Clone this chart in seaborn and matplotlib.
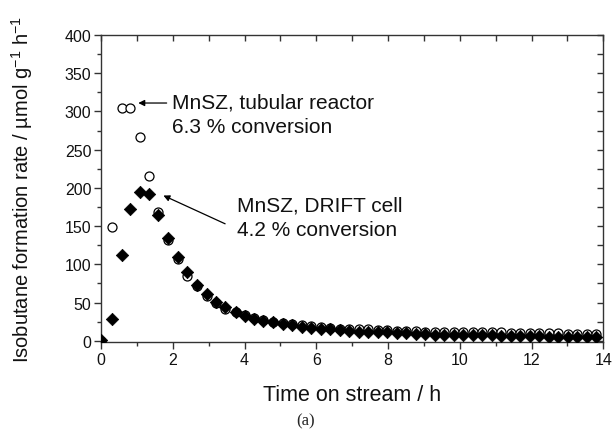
import matplotlib
matplotlib.use("Agg")
import matplotlib.pyplot as plt
from matplotlib.ticker import MultipleLocator
import seaborn as sns
import pandas as pd

time_h = [0.00, 0.30, 0.58, 0.81, 1.08, 1.35, 1.60, 1.88, 2.15, 2.41,
          2.67, 2.95, 3.20, 3.46, 3.75, 4.01, 4.26, 4.52, 4.79, 5.06,
          5.32, 5.59, 5.85, 6.12, 6.38, 6.65, 6.91, 7.18, 7.44, 7.71,
          7.97, 8.24, 8.50, 8.77, 9.03, 9.30, 9.56, 9.83, 10.09, 10.36,
          10.62, 10.89, 11.15, 11.42, 11.68, 11.95, 12.21, 12.48, 12.74, 13.01,
          13.27, 13.54, 13.80]

tubular_rate = [0, 149, 305, 305, 266, 216, 169, 132, 107, 85,
                71, 58, 49, 42, 37, 34, 30, 27, 25, 23,
                22, 20, 19, 18, 17, 16, 16, 15, 15, 14,
                14, 13, 13, 13, 12, 12, 12, 12, 11, 11,
                11, 11, 11, 10, 10, 10, 10, 10, 10, 9,
                9, 9, 9]

drift_rate = [1, 28, 112, 172, 195, 192, 165, 135, 110, 90,
              73, 61, 51, 44, 38, 33, 29, 26, 24, 22,
              20, 18, 17, 16, 15, 14, 13, 12, 12, 11,
              11, 10, 10, 9, 9, 8, 8, 8, 7, 7,
              7, 7, 6, 6, 6, 6, 6, 5, 5, 5,
              5, 5, 5]

labels = ["MnSZ, tubular reactor\n6.3 % conversion",
          "MnSZ, DRIFT cell\n4.2 % conversion"]
x_label = "Time on stream / h"
y_label = "Isobutane formation rate / µmol g$^{-1}$ h$^{-1}$"
caption = "(a)"

sns.set_style("ticks")
plt.rcParams['font.family'] = ['Liberation Sans', 'DejaVu Sans']
plt.rcParams['mathtext.fontset'] = 'custom'
plt.rcParams['mathtext.rm'] = 'Liberation Sans'
plt.rcParams['mathtext.it'] = 'Liberation Sans'
plt.rcParams['mathtext.default'] = 'regular'

df_t = pd.DataFrame({"t": time_h, "r": tubular_rate})
df_d = pd.DataFrame({"t": time_h, "r": drift_rate})

fig = plt.figure(figsize=(6.12, 4.31), dpi=100)
ax = fig.add_axes([0.165, 0.2035, 0.8208, 0.713])

sns.scatterplot(data=df_t, x="t", y="r", ax=ax, marker="o", s=42,
                facecolor="white", edgecolor="black", linewidth=0.9, zorder=3)
sns.scatterplot(data=df_d, x="t", y="r", ax=ax, marker="D", s=40,
                color="black", edgecolor="black", linewidth=0.5, zorder=4)

ax.set_xlim(0, 14)
ax.set_ylim(-2, 400)
ax.xaxis.set_major_locator(MultipleLocator(2))
ax.xaxis.set_minor_locator(MultipleLocator(1))
ax.yaxis.set_major_locator(MultipleLocator(50))
ax.yaxis.set_minor_locator(MultipleLocator(25))

for sp in ax.spines.values():
    sp.set_visible(True)
    sp.set_linewidth(1.0)
    sp.set_color("#333333")

ax.tick_params(which="major", direction="out", length=5, width=1, color="#333333",
               labelsize=11.5, labelcolor="#111111", pad=2)
ax.tick_params(which="minor", direction="out", length=3, width=1, color="#333333")

# top and right ticks pointing inward
top = ax.secondary_xaxis("top")
top.xaxis.set_major_locator(MultipleLocator(2))
top.xaxis.set_minor_locator(MultipleLocator(1))
top.tick_params(which="both", direction="in", length=4, width=1, color="#333333",
                labeltop=False)
top.spines["top"].set_visible(False)
right = ax.secondary_yaxis("right")
right.yaxis.set_major_locator(MultipleLocator(50))
right.yaxis.set_minor_locator(MultipleLocator(25))
right.tick_params(which="both", direction="in", length=4, width=1, color="#333333",
                  labelright=False)
right.spines["right"].set_visible(False)

ax.set_xlabel(x_label, fontsize=15.5, color="#111111")
ax.set_ylabel(y_label, fontsize=14.5, color="#111111")
ax.xaxis.label.set_va("center")
ax.yaxis.label.set_va("center")
ax.xaxis.set_label_coords(0.5, -0.171)
ax.yaxis.set_label_coords(-0.157, 0.5)

ax.text(1.97, 296, labels[0], fontsize=15, va="center", ha="left",
        linespacing=1.35, color="#111111")
ax.text(3.78, 162, labels[1], fontsize=15, va="center", ha="left",
        linespacing=1.35, color="#111111")
ax.annotate("", xy=(1.04, 311), xytext=(1.83, 311),
            arrowprops=dict(arrowstyle="-|>", color="black", lw=0.9,
                            mutation_scale=9, shrinkA=0, shrinkB=0))
ax.annotate("", xy=(1.74, 190), xytext=(3.46, 153),
            arrowprops=dict(arrowstyle="-|>", color="black", lw=0.9,
                            mutation_scale=9, shrinkA=0, shrinkB=0))

fig.text(306 / 612, 1 - 421 / 431, caption, ha="center", va="center",
         fontsize=12, family=["Liberation Serif", "DejaVu Serif"])

fig.savefig("out.png", dpi=100)
